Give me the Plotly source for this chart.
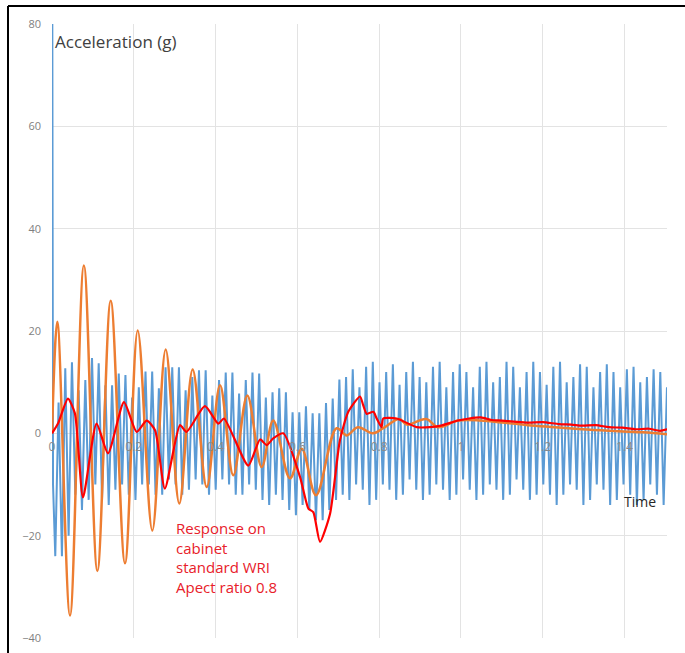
import numpy as np
import plotly.graph_objects as go

# ---------------- data ----------------
x_ticks = [0, 0.2, 0.4, 0.6, 0.8, 1.0, 1.2, 1.4]
x_tick_labels = ["0", "0.2", "0.4", "0.6", "0.8", "1", "1.2", "1.4"]
y_ticks = [-40, -20, 0, 20, 40, 60, 80]

# blue: initial spike then fast oscillation (peaks / troughs)
blue_spike_t = [0.0, 0.0008, 0.0025]
blue_spike_v = [0.0, 80.0, -10.0]
blue_t0 = 0.0161          # time of first peak
blue_half = 0.008175      # half period between extremes
blue_peaks = [6, 12.7, 13.9, 8.4, 10.4, 14.7, 13.7, 9.4, 9.4, 11.7,
              11.4, 7, 9, 12.1, 12.1, 8.8, 12.9, 12.9, 12.9, 8.4,
              11, 12.3, 12.3, 7.4, 10.4, 11.9, 11.9, 7.8, 10.4, 11.9,
              11.7, 7, 8, 8.8, 8, 4.1, 4.1, 5.3, 3.9, 3.9,
              5.9, 6.8, 10.5, 11, 12.5, 9, 13, 14, 10, 12,
              13.5, 9.5, 12, 14, 11, 10, 13, 14, 9, 12,
              13.5, 12, 9, 13, 14, 10, 11, 14, 13, 9,
              12, 14, 12, 9.5, 13, 14, 10, 11, 13.5, 13,
              9, 12, 13.5, 12, 9, 12.5, 13, 10, 11, 12.5,
              12, 9]
blue_troughs = [-24, -20, -12, -15, -13, -10, -13, -14, -11, -10,
                -12, -13, -10, -10, -12, -12, -9, -10, -12, -11,
                -9, -10, -12, -11, -9, -10, -12, -12, -10, -11,
                -13, -14, -12, -13, -15, -16, -14, -15, -17, -17,
                -15, -13, -12, -13, -10, -11, -14, -13, -10, -11,
                -13, -12, -9, -11, -13, -12, -10, -11, -13, -12,
                -9, -11, -13, -12, -10, -11, -13, -12, -9, -11,
                -13, -12, -10, -12, -14, -12, -10, -11, -14, -13,
                -10, -11, -14, -13, -10, -12, -14, -13, -10, -12,
                -14, -12]

orange_t = [0.0, 0.013, 0.044, 0.078, 0.111, 0.1436, 0.1785, 0.2096, 0.2453,
            0.278, 0.3113, 0.344, 0.3783, 0.411, 0.4434, 0.4776, 0.5128, 0.541,
            0.582, 0.6107, 0.6456, 0.696, 0.7207, 0.748, 0.785, 0.81, 0.849,
            0.868, 0.915, 0.944, 0.993, 1.049, 1.1, 1.164, 1.23, 1.296, 1.362,
            1.445, 1.506]
orange_v = [0.0, 21.8, -35.6, 32.8, -26.9, 25.9, -25.4, 20.1, -19.0,
            16.4, -13.7, 12.5, -10.5, 9.4, -8.2, 7.4, -6.6, 2.5,
            -8.8, -3.0, -12.1, 1.0, -0.4, 1.2, 0.0, 1.0, 2.8,
            1.7, 2.8, 1.2, 2.5, 2.5, 2.1, 1.6, 1.2, 0.8, 0.5,
            0.2, -0.2]

red_t = [0.0, 0.0147, 0.039, 0.056, 0.0758, 0.109, 0.137, 0.176, 0.207,
         0.2316, 0.252, 0.276, 0.313, 0.329, 0.374, 0.4067, 0.4206, 0.48,
         0.5087, 0.525, 0.541, 0.5657, 0.6065, 0.627, 0.639, 0.6554, 0.68,
         0.704, 0.7246, 0.7532, 0.761, 0.7696, 0.786, 0.794, 0.806, 0.81,
         0.843, 0.892, 0.924, 0.951, 0.993, 1.02, 1.049, 1.075, 1.1, 1.13,
         1.164, 1.2, 1.24, 1.27, 1.296, 1.33, 1.362, 1.395, 1.428, 1.46,
         1.487, 1.506]
red_v = [0.0, 1.9, 6.8, 3.9, -12.5, 1.9, -3.9, 6.1, 0.3,
         2.5, 0.6, -10.8, 1.6, 0.3, 5.3, 1.9, 2.9, -6.3,
         -1.2, -2.3, -1.0, 0.0, -8.5, -14.7, -15.4, -21.2, -15.7,
         -1.4, 4.2, 7.2, 5.5, 3.8, 4.2, 2.9, 1.2, 2.9,
         2.9, 1.2, 1.2, 1.5, 2.5, 2.9, 3.1, 2.6, 2.5, 2.3,
         2.1, 2.2, 1.8, 1.7, 1.5, 1.6, 1.2, 1.1, 0.8, 0.9,
         0.5, 0.8]

# ---------------- build blue series ----------------
blue_t = list(blue_spike_t)
blue_v = list(blue_spike_v)
for k in range(len(blue_peaks)):
    blue_t.append(blue_t0 + 2 * k * blue_half)
    blue_v.append(blue_peaks[k])
    if k < len(blue_troughs):
        blue_t.append(blue_t0 + (2 * k + 1) * blue_half)
        blue_v.append(blue_troughs[k])
blue_t.insert(3, 0.008)
blue_v.insert(3, -24)

fig = go.Figure()
fig.add_trace(go.Scatter(x=blue_t, y=blue_v, mode="lines",
                         line=dict(color="#5b9bd5", width=2.0), showlegend=False))
fig.add_trace(go.Scatter(x=orange_t, y=orange_v, mode="lines",
                         line=dict(color="#ed7d31", width=2.5, shape="spline", smoothing=1.0),
                         showlegend=False))
fig.add_trace(go.Scatter(x=red_t, y=red_v, mode="lines",
                         line=dict(color="#ff0000", width=2.2, shape="spline", smoothing=0.6),
                         showlegend=False))

fig.update_layout(
    width=685, height=653,
    margin=dict(l=52, r=18, t=24, b=15, autoexpand=False),
    paper_bgcolor="white", plot_bgcolor="white",
    font=dict(family="Open Sans, Noto Sans, sans-serif", color="#7f7f7f", size=11),
    xaxis=dict(range=[0, 1.504], tickvals=x_ticks, ticktext=x_tick_labels,
               showgrid=True, gridcolor="#e3e3e3", gridwidth=1,
               zeroline=False, showline=False, ticks="", automargin=False,
               anchor="free", position=1 / 3,
               tickfont=dict(size=12, color="#8a8a8a"), ticklabelstandoff=5),
    yaxis=dict(range=[-40, 80], tickvals=y_ticks, automargin=False,
               showgrid=True, gridcolor="#e3e3e3", gridwidth=1,
               zeroline=False, showline=False, ticks="",
               tickfont=dict(size=11, color="#7f7f7f"), ticklabelstandoff=10),
)

fig.add_annotation(text="Acceleration (g)", xref="paper", yref="paper",
                   x=0.0015, y=(638 - 41) / 614, xanchor="left", yanchor="middle",
                   showarrow=False, font=dict(size=17, color="#404040"))
fig.add_annotation(text="Time", xref="paper", yref="paper",
                   x=(640 - 52) / 615, y=(638 - 501) / 614, xanchor="center", yanchor="middle",
                   showarrow=False, font=dict(size=14, color="#262626"))
fig.add_annotation(text="Response on<br>cabinet<br>standard WRI<br>Apect ratio 0.8",
                   xref="paper", yref="paper", align="left",
                   x=(174 - 52) / 615, y=(638 - 516) / 614, xanchor="left", yanchor="top",
                   showarrow=False, font=dict(size=15, color="#e8202a"))

fig.add_shape(type="line", xref="paper", yref="paper",
              x0=(8 - 52) / 615, x1=(690 - 52) / 615, y0=(638 - 6) / 614, y1=(638 - 6) / 614,
              line=dict(color="black", width=2))
fig.add_shape(type="line", xref="paper", yref="paper",
              x0=(8 - 52) / 615, x1=(8 - 52) / 615, y0=(638 - 6) / 614, y1=(638 - 660) / 614,
              line=dict(color="black", width=2))

fig.write_html("out.html", config={"displayModeBar": False},
               post_script="document.body.style.margin='0';document.body.style.padding='0';")
